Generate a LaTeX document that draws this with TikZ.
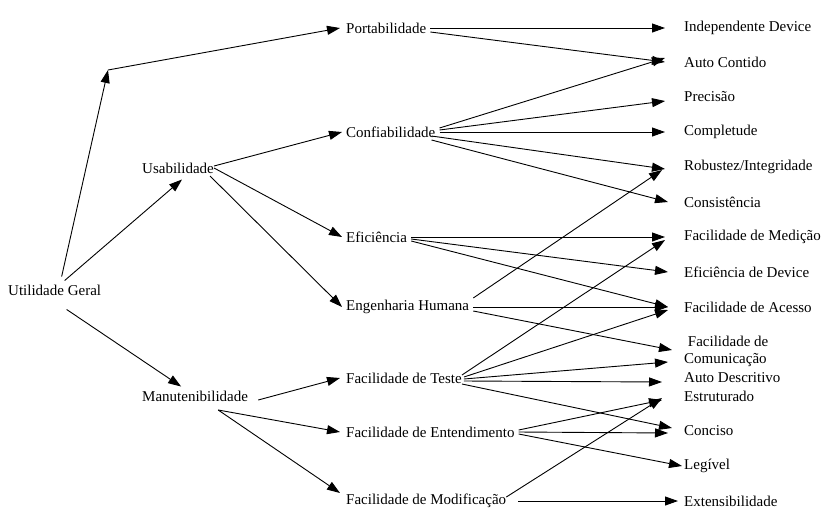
\documentclass[tikz,border=0pt]{standalone}
\usepackage{fontspec}
\setmainfont{Liberation Serif}
\usetikzlibrary{arrows.meta,calc}
\begin{document}
\begin{tikzpicture}[x=1pt,y=-1pt,
  lbl/.style={anchor=west,inner sep=0pt,font=\fontsize{15}{17}\selectfont},
  arr/.style={-{Triangle[length=13pt,width=9pt]},line width=0.9pt}]
\useasboundingbox (0,0) rectangle (832,528);
\node[lbl] (ug) at (8,290) {Utilidade Geral};
\node[lbl] (us) at (142,168) {Usabilidade};
\node[lbl] (ma) at (142,396) {Manutenibilidade};
\coordinate (k) at (108,70);
\node[lbl] (po) at (346,28) {Portabilidade};
\node[lbl] (co) at (346,132) {Confiabilidade};
\node[lbl] (ef) at (346,237) {Eficiência};
\node[lbl] (eh) at (346,307) {Engenharia Humana};
\node[lbl] (ft) at (346,378) {Facilidade de Teste};
\node[lbl] (fe) at (346,432) {Facilidade de Entendimento};
\node[lbl] (fm) at (346,501) {Facilidade de Modificação};
\node[lbl] (r1) at (684,28) {Independente Device};
\node[lbl] (r2) at (684,62) {Auto Contido};
\node[lbl] (r3) at (684,97) {Precisão};
\node[lbl] (r4) at (684,132) {Completude};
\node[lbl] (r5) at (684,167) {Robustez/Integridade};
\node[lbl] (r6) at (684,202) {Consistência};
\node[lbl] (r7) at (684,237) {Facilidade de Medição};
\node[lbl] (r8) at (684,272) {Eficiência de Device};
\node[lbl] (r9) at (684,307) {Facilidade de Acesso};
\node[lbl,align=left] (r10) at (684,351) {\ Facilidade de\\Comunicação};
\node[lbl] (r11) at (684,378) {Auto Descritivo};
\node[lbl] (r12) at (684,396) {Estruturado};
\node[lbl] (r13) at (684,431) {Conciso};
\node[lbl] (r14) at (684,466) {Legível};
\node[lbl] (r15) at (684,501) {Extensibilidade};
% left
\draw[arr] ($(ug.north)+(7,-8)$) -- (k);
\draw[arr] (k) -- ($(po.west)+(-6,0)$);
\draw[arr] ($(ug.north)+(10,-4)$) -- ($(us.south)+(4,6)$);
\draw[arr] ($(ug.south)+(12,14)$) -- ($(ma.north)+(-14,-4)$);
\draw[arr] ($(us.east)+(0,-2)$) -- ($(co.west)+(-4,0)$);
\draw[arr] (us.east) -- ($(ef.west)+(-4,0)$);
\draw[arr] ($(us.east)+(-4,8)$) -- ($(eh.west)+(-4,0)$);
\draw[arr] ($(ma.east)+(10,4)$) -- ($(ft.west)+(-6,0)$);
\draw[arr] ($(ma.east)+(-30,14)$) -- ($(fe.west)+(-6,0)$);
\draw[arr] ($(ma.east)+(-30,14)$) -- ($(fm.west)+(-6,-8)$);
% right
\draw[arr] ($(po.east)+(4,0)$) -- ($(r1.west)+(-19,0)$);
\draw[arr] ($(po.east)+(4,4)$) -- ($(r2.west)+(-19,0)$);
\draw[arr] ($(co.east)+(4,-4)$) -- ($(r2.west)+(-19,-4)$);
\draw[arr] ($(co.east)+(4,-2)$) -- ($(r3.west)+(-19,4)$);
\draw[arr] ($(co.east)+(4,0)$) -- ($(r4.west)+(-19,0)$);
\draw[arr] ($(co.east)+(-4,4)$) -- ($(r5.west)+(-19,2)$);
\draw[arr] ($(co.east)+(-4,8)$) -- ($(r6.west)+(-16,0)$);
\draw[arr] ($(ef.east)+(4,0)$) -- ($(r7.west)+(-19,0)$);
\draw[arr] ($(ef.east)+(4,2)$) -- ($(r8.west)+(-16,0)$);
\draw[arr] ($(ef.east)+(4,4)$) -- ($(r9.west)+(-16,0)$);
\draw[arr] ($(eh.east)+(4,-9)$) -- ($(r5.west)+(-22,3)$);
\draw[arr] ($(eh.east)+(4,0)$) -- ($(r9.west)+(-16,0)$);
\draw[arr] ($(eh.east)+(4,4)$) -- ($(r10.west)+(-12,-1)$);
\draw[arr] ($(ft.east)+(0,-3)$) -- ($(r7.west)+(-19,3)$);
\draw[arr] ($(ft.east)+(2,-1)$) -- ($(r9.west)+(-16,3)$);
\draw[arr] ($(ft.east)+(2,1)$) -- ($(r10.west)+(-16,11)$);
\draw[arr] ($(ft.east)+(2,3)$) -- ($(r11.west)+(-22,4)$);
\draw[arr] ($(ft.east)+(0,6)$) -- ($(r13.west)+(-12,-3)$);
\draw[arr] ($(fe.east)+(4,-2)$) -- ($(r12.west)+(-22,4)$);
\draw[arr] ($(fe.east)+(4,0)$) -- ($(r13.west)+(-16,2)$);
\draw[arr] ($(fe.east)+(4,2)$) -- ($(r14.west)+(-2,0)$);
\draw[arr] ($(fm.east)+(0,-4)$) -- ($(r12.west)+(-22,2)$);
\draw[arr] ($(fm.east)+(12,0)$) -- ($(r15.west)+(-6,0)$);
\end{tikzpicture}
\end{document}
